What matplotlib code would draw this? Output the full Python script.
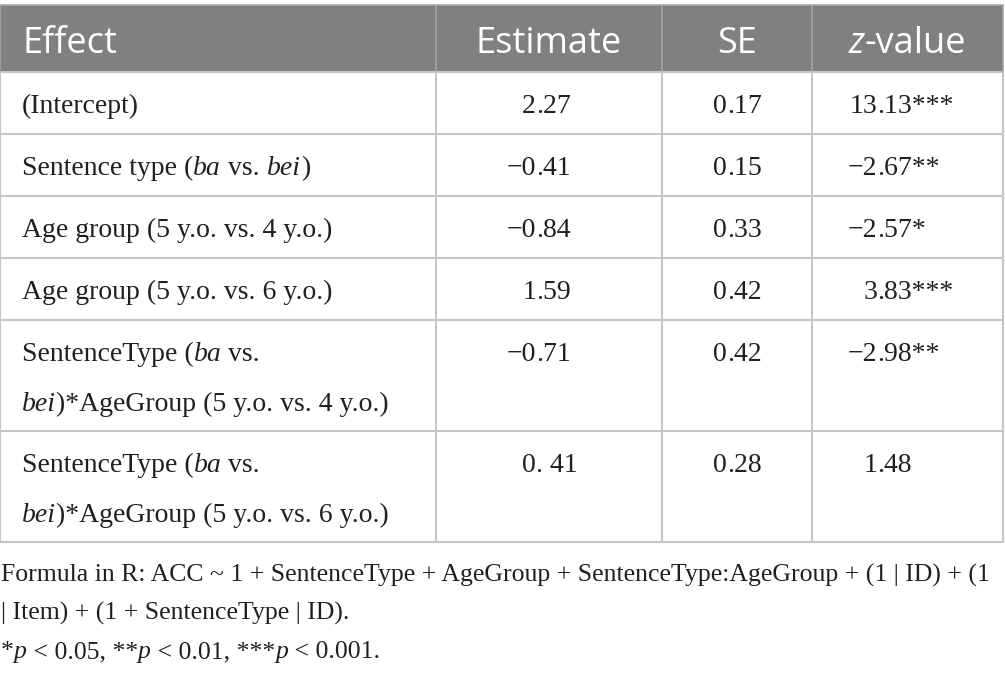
import matplotlib.pyplot as plt
from matplotlib.font_manager import FontProperties
from matplotlib.patches import Rectangle

# table content (underscores mark italic parts)
headers = ["Effect", "Estimate", "SE", "_z_-value"]
effects = [
    "(Intercept)",
    "Sentence type (_ba_ vs. _bei_)",
    "Age group (5 y.o. vs. 4 y.o.)",
    "Age group (5 y.o. vs. 6 y.o.)",
    "SentenceType (_ba_ vs.\n_bei_)*AgeGroup (5 y.o. vs. 4 y.o.)",
    "SentenceType (_ba_ vs.\n_bei_)*AgeGroup (5 y.o. vs. 6 y.o.)",
]
estimates = ["2.27", "\u22120.41", "\u22120.84", "1.59", "\u22120.71", "0. 41"]
se_vals = ["0.17", "0.15", "0.33", "0.42", "0.42", "0.28"]
z_vals = ["13.13***", "\u22122.67**", "\u22122.57*", "3.83***", "\u22122.98**", "1.48"]
notes = [
    "Formula in R: ACC ~ 1 + SentenceType + AgeGroup + SentenceType:AgeGroup + (1 | ID) + (1",
    "| Item) + (1 + SentenceType | ID).",
    "*_p_ < 0.05, **_p_ < 0.01, ***_p_ < 0.001.",
]

W, H = 1005, 673
fig = plt.figure(figsize=(W / 100, H / 100), dpi=100)
ax = fig.add_axes([0, 0, 1, 1])
ax.set_xlim(0, W)
ax.set_ylim(H, 0)
ax.axis('off')
renderer = fig.canvas.get_renderer()

serif = 'Liberation Serif'
sans = 'Open Sans'
txt_color = '#231f20'
grid_color = '#c6c6c6'
head_color = '#7f807f'


def text_w(s, size, family, style):
    fp = FontProperties(family=family, size=size, style=style)
    w1 = renderer.get_text_width_height_descent(s + '|', fp, ismath=False)[0]
    w2 = renderer.get_text_width_height_descent('|', fp, ismath=False)[0]
    return w1 - w2


def rich(x, y, markup, size, family, color, ha='left'):
    parts = markup.split('_')
    segs = [(p, 'italic' if i % 2 else 'normal') for i, p in enumerate(parts) if p]
    widths = [text_w(s, size, family, st) for s, st in segs]
    total = sum(widths)
    if ha == 'center':
        x = x - total / 2
    elif ha == 'right':
        x = x - total
    for (s, st), w in zip(segs, widths):
        ax.text(x, y, s, fontsize=size, family=family, style=st, color=color,
                ha='left', va='baseline')
        x += w


def decimal(xd, y, s, size):
    i = s.index('.')
    left, right = s[:i], s[i:]
    wl = text_w(left, size, serif, 'normal')
    ax.text(xd - wl, y, left, fontsize=size, family=serif, color=txt_color, va='baseline')
    ax.text(xd, y, right, fontsize=size, family=serif, color=txt_color, va='baseline')


# column layout
col_x = [0, 436, 662, 812, 1003]
top, head_bot = 5, 72
body_size = 20
line_gap = 49

# header
ax.add_patch(Rectangle((0, top), col_x[-1], head_bot - top, facecolor=head_color,
                       edgecolor='none', zorder=0))
head_base = 53
rich(22, head_base, headers[0], 26, sans, 'white')
for j in range(1, 4):
    rich((col_x[j] + col_x[j + 1]) / 2, head_base, headers[j], 26, sans, 'white', ha='center')

# body rows
row_tops = []
y = head_bot
for e in effects:
    row_tops.append(y)
    y += 62 + line_gap * e.count('\n')
bottom = y

dec_x = [536, 727, 877]
for r, e in enumerate(effects):
    base = row_tops[r] + 41
    for k, line in enumerate(e.split('\n')):
        rich(22, base + k * 50, line, body_size, serif, txt_color)
    decimal(dec_x[0], base, estimates[r], body_size)
    decimal(dec_x[1], base, se_vals[r], body_size)
    decimal(dec_x[2], base, z_vals[r], body_size)

# grid lines
for yy in row_tops[1:] + [head_bot, bottom]:
    ax.plot([0, col_x[-1]], [yy, yy], color=grid_color, lw=1.5, solid_capstyle='butt')
ax.plot([0, col_x[-1]], [top, top], color='#a9a9a9', lw=1.2)
for j, xx in enumerate(col_x):
    ax.plot([xx, xx], [head_bot, bottom], color=grid_color, lw=1.5, solid_capstyle='butt')
    ax.plot([xx, xx], [top, head_bot], color='#a4a4a4', lw=1.2, solid_capstyle='butt')

# footnotes
for k, n in enumerate(notes):
    rich(1, 582 + k * 38, n, 18.5, serif, txt_color)

fig.savefig('out.png', dpi=100)
